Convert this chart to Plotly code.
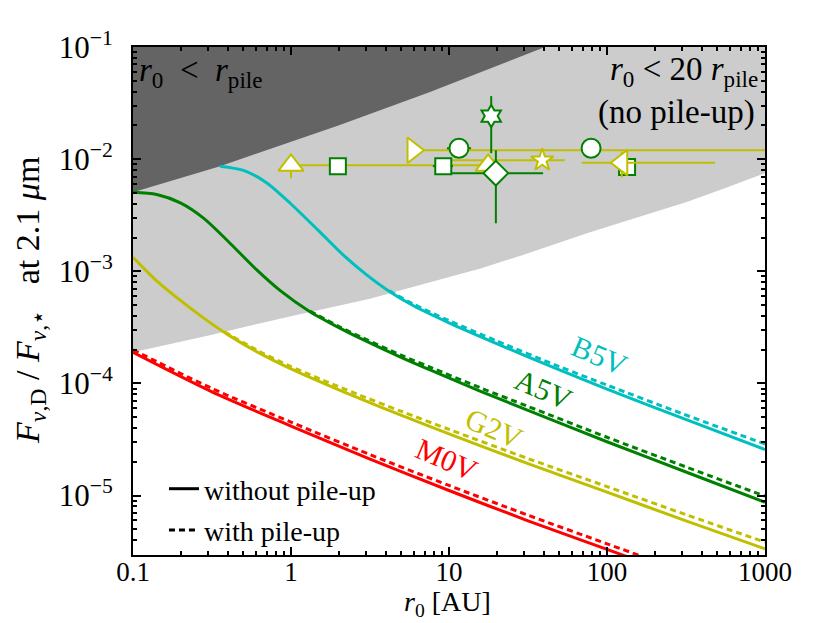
import plotly.graph_objects as go

# ---------------- data (log10 values) ----------------
# shaded region boundaries
dark_lx = [-1.0, -0.449, 0.3, 0.88, 1.608]
dark_ly = [-2.295, -2.0625, -1.70, -1.402, -1.0]
light_lx = [-1.0, -0.5, 0.0, 0.5, 0.88, 1.2, 1.5, 1.873, 2.2, 2.5, 2.75, 3.0]
light_ly = [-3.723, -3.565, -3.40, -3.245, -3.098, -2.975, -2.84, -2.661, -2.515, -2.384, -2.258, -2.125]

# B5V
b5_lx = [-0.449, -0.301, -0.155, 0.0, 0.176, 0.342, 0.477, 0.623, 0.778, 1.0, 1.301, 1.699, 2.0, 2.477, 3.0]
b5_ly = [-2.0625, -2.10, -2.21, -2.40, -2.64, -2.87, -3.03, -3.18, -3.31, -3.46, -3.645, -3.88, -4.05, -4.31, -4.59]
b5d_lx = [0.623, 0.778, 1.0, 1.301, 1.699, 2.0, 2.477, 3.0]
b5d_ly = [-3.175, -3.295, -3.44, -3.62, -3.85, -4.015, -4.27, -4.54]
# A5V
a5_lx = [-1.0, -0.85, -0.7, -0.55, -0.4, -0.215, -0.07, 0.12, 0.3, 0.456, 0.7, 0.88, 1.2, 1.5, 2.0, 2.5, 3.0]
a5_ly = [-2.295, -2.315, -2.39, -2.53, -2.73, -2.99, -3.17, -3.36, -3.50, -3.61, -3.77, -3.88, -4.07, -4.24, -4.52, -4.79, -5.06]
a5d_lx = [0.12, 0.3, 0.456, 0.7, 0.88, 1.2, 1.5, 2.0, 2.5, 3.0]
a5d_ly = [-3.355, -3.49, -3.595, -3.75, -3.855, -4.04, -4.205, -4.48, -4.745, -5.005]
# G2V
g2_lx = [-1.0, -0.85, -0.7, -0.55, -0.4, -0.2, 0.0, 0.2, 0.418, 0.7, 1.0, 1.5, 2.0, 2.5, 3.0]
g2_ly = [-2.875, -3.085, -3.26, -3.42, -3.565, -3.73, -3.87, -3.995, -4.125, -4.285, -4.45, -4.715, -4.97, -5.225, -5.475]
g2d_lx = [-0.42, -0.2, 0.0, 0.2, 0.418, 0.7, 1.0, 1.5, 2.0, 2.5, 3.0]
g2d_ly = [-3.54, -3.715, -3.85, -3.97, -4.095, -4.25, -4.41, -4.67, -4.92, -5.17, -5.415]
# M0V
m0_lx = [-1.0, -0.5, 0.0, 0.5, 1.0, 1.5, 2.0, 2.5]
m0_ly = [-3.723, -4.075, -4.38, -4.675, -4.955, -5.225, -5.48, -5.735]
m0d_lx = [-1.0, -0.5, 0.0, 0.5, 1.0, 1.5, 2.0, 2.5]
m0d_ly = [-3.70, -4.045, -4.345, -4.635, -4.91, -5.175, -5.43, -5.685]

# observed points (r0 [AU], flux ratio) with error-bar ends
yel_x = [1.0, 5.92, 17.7, 38.9, 124.0]
yel_y = [8.8e-3, 1.2e-2, 8.8e-3, 9.8e-3, 9.3e-3]
yel_sym = ["triangle-up", "triangle-right", "triangle-up", "star", "triangle-left"]
yel_size = [22, 22, 22, 17, 22]
yel_xhi = [17.7, 3000.0, 17.7, 54.0, 483.0]
yel_xlo = [1.0, 5.92, 17.7, 9.7, 69.2]
yel_yhi = [8.8e-3, 1.2e-2, 8.8e-3, 9.8e-3, 1.16e-2]
yel_ylo = [6.76e-3, 1.2e-2, 8.8e-3, 9.8e-3, 6.87e-3]

grn_x = [1.98, 9.2, 11.56, 79.3, 18.5, 19.8]
grn_y = [8.66e-3, 8.66e-3, 1.25e-2, 1.25e-2, 2.42e-2, 7.5e-3]
grn_sym = ["square", "square", "circle", "circle", "hexagram", "diamond"]
grn_size = [16, 16, 19, 19, 17, 19]
grn_xhi = [1.98, 10.6, 13.8, 79.3, 18.5, 39.4]
grn_xlo = [1.98, 7.9, 9.7, 79.3, 18.5, 9.86]
grn_yhi = [8.66e-3, 8.66e-3, 1.25e-2, 1.25e-2, 3.65e-2, 1.2e-2]
grn_ylo = [8.66e-3, 8.66e-3, 1.25e-2, 1.25e-2, 1.13e-2, 2.68e-3]

grn_back_x = [134.0]
grn_back_y = [8.5e-3]

x_tickvals = [0.1, 1, 10, 100, 1000]
x_ticktext = ["0.1", "1", "10", "100", "1000"]
y_tickvals = [1e-5, 1e-4, 1e-3, 1e-2, 1e-1]
y_ticktext = ["10<sup>\u22125</sup>", "10<sup>\u22124</sup>", "10<sup>\u22123</sup>",
              "10<sup>\u22122</sup>", "10<sup>\u22121</sup>"]

X_RANGE = [-1, 3]
Y_RANGE = [-5.53, -1]

C_CYAN = "#00BFBF"
C_GREEN = "#008000"
C_YEL = "#BFBF00"
C_RED = "#FF0000"
FONT = "Liberation Serif"


def p10(v):
    return [10 ** a for a in v]


fig = go.Figure()

# light region (r0 < 20 r_pile)
lx = p10(light_lx) + [10 ** X_RANGE[1], 10 ** X_RANGE[0]]
ly = p10(light_ly) + [10 ** Y_RANGE[1], 10 ** Y_RANGE[1]]
fig.add_trace(go.Scatter(x=lx, y=ly, fill="toself", fillcolor="#cccccc", mode="lines",
                         line=dict(width=0), hoverinfo="skip", showlegend=False))
# dark region (r0 < r_pile)
dx = p10(dark_lx) + [10 ** X_RANGE[0]]
dy = p10(dark_ly) + [10 ** Y_RANGE[1]]
fig.add_trace(go.Scatter(x=dx, y=dy, fill="toself", fillcolor="#646464", mode="lines",
                         line=dict(width=0), hoverinfo="skip", showlegend=False))

curves = [
    (b5_lx, b5_ly, b5d_lx, b5d_ly, C_CYAN),
    (a5_lx, a5_ly, a5d_lx, a5d_ly, C_GREEN),
    (g2_lx, g2_ly, g2d_lx, g2d_ly, C_YEL),
    (m0_lx, m0_ly, m0d_lx, m0d_ly, C_RED),
]
for sx, sy, ddx, ddy, col in curves:
    fig.add_trace(go.Scatter(x=p10(ddx), y=p10(ddy), mode="lines",
                             line=dict(color=col, width=3, dash="6px,4px", shape="spline", smoothing=0.8),
                             showlegend=False, hoverinfo="skip"))
    fig.add_trace(go.Scatter(x=p10(sx), y=p10(sy), mode="lines",
                             line=dict(color=col, width=3, shape="spline", smoothing=0.8),
                             showlegend=False, hoverinfo="skip"))

# green square hidden behind yellow triangle
fig.add_trace(go.Scatter(x=grn_back_x, y=grn_back_y, mode="markers",
                         marker=dict(symbol="square", size=16, color="white", opacity=1,
                                     line=dict(color=C_GREEN, width=2)),
                         showlegend=False))


def errs(v, hi, lo):
    return [h - a for a, h in zip(v, hi)], [a - l for a, l in zip(v, lo)]


ex_p, ex_m = errs(yel_x, yel_xhi, yel_xlo)
ey_p, ey_m = errs(yel_y, yel_yhi, yel_ylo)
fig.add_trace(go.Scatter(
    x=yel_x, y=yel_y, mode="markers",
    marker=dict(symbol=yel_sym, size=yel_size, color="white", opacity=1,
                line=dict(color=C_YEL, width=2)),
    error_x=dict(type="data", symmetric=False, array=ex_p, arrayminus=ex_m,
                 color=C_YEL, thickness=2, width=0),
    error_y=dict(type="data", symmetric=False, array=ey_p, arrayminus=ey_m,
                 color=C_YEL, thickness=2, width=0),
    showlegend=False))

ex_p, ex_m = errs(grn_x, grn_xhi, grn_xlo)
ey_p, ey_m = errs(grn_y, grn_yhi, grn_ylo)
fig.add_trace(go.Scatter(
    x=grn_x, y=grn_y, mode="markers",
    marker=dict(symbol=grn_sym, size=grn_size, color="white", opacity=1,
                line=dict(color=C_GREEN, width=2)),
    error_x=dict(type="data", symmetric=False, array=ex_p, arrayminus=ex_m,
                 color=C_GREEN, thickness=2, width=0),
    error_y=dict(type="data", symmetric=False, array=ey_p, arrayminus=ey_m,
                 color=C_GREEN, thickness=2, width=0),
    showlegend=False))

# legend entries
fig.add_trace(go.Scatter(x=[None], y=[None], mode="lines", name="without pile-up",
                         line=dict(color="black", width=3), legendgroup="a"))
fig.add_trace(go.Scatter(x=[None], y=[None], mode="lines", name="with pile-up",
                         line=dict(color="black", width=3, dash="6px,4px"), legendgroup="b"))

minor_x = [m * 10 ** e for e in range(-1, 3) for m in range(2, 10)]
minor_y = [m * 10 ** e for e in range(-6, -1) for m in range(2, 10)]

axis_common = dict(type="log", showline=True, linewidth=2, linecolor="black", mirror="ticks",
                   ticks="inside", ticklen=8, tickwidth=1.5, tickcolor="black",
                   showgrid=False, zeroline=False)

fig.update_xaxes(range=X_RANGE, tickmode="array", tickvals=x_tickvals, ticktext=x_ticktext,
                 tickfont=dict(family=FONT, size=27, color="black"),
                 minor=dict(tickmode="array", tickvals=minor_x, ticks="inside", ticklen=4,
                            tickwidth=1.5, tickcolor="black", showgrid=False),
                 ticklabelstandoff=-8, **axis_common)
fig.update_yaxes(range=Y_RANGE, tickmode="array", tickvals=y_tickvals, ticktext=y_ticktext,
                 tickfont=dict(family=FONT, size=31, color="black"),
                 minor=dict(tickmode="array", tickvals=minor_y, ticks="inside", ticklen=4,
                            tickwidth=1.5, tickcolor="black", showgrid=False),
                 ticklabelstandoff=12, **axis_common)

NB = "\u00a0"
top_font = dict(family=FONT, size=33, color="black")
lab = dict(family=FONT, size=30)
annotations = [
    dict(x=0.006, y=0.949, xanchor="left", yanchor="middle",
         text="<i>r</i><sub>0</sub>" + NB + NB + "<" + NB + NB + "<i>r</i><sub>pile</sub>", font=top_font),
    dict(x=0.992, y=0.951, xanchor="right", yanchor="middle",
         text="<i>r</i><sub>0</sub>" + NB + "<" + NB + "20" + NB + "<i>r</i><sub>pile</sub>", font=top_font),
    dict(x=0.987, y=0.872, xanchor="right", yanchor="middle",
         text="(no pile-up)", font=top_font),
    dict(x=0.738, y=0.392, text="B5V", textangle=23, font=dict(lab, color=C_CYAN)),
    dict(x=0.650, y=0.325, text="A5V", textangle=23, font=dict(lab, color=C_GREEN)),
    dict(x=0.572, y=0.250, text="G2V", textangle=23, font=dict(lab, color=C_YEL)),
    dict(x=0.497, y=0.188, text="M0V", textangle=23, font=dict(lab, color=C_RED)),
    dict(x=0.498, y=-0.095, text="<i>r</i><sub>0</sub> [AU]",
         font=dict(family=FONT, size=28, color="black")),
    dict(x=-0.163, y=0.502, textangle=-90,
         text="<i>F</i><sub><i>\u03bd</i>,D</sub>" + NB + "/" + NB + "<i>F</i><sub><i>\u03bd</i>,\u22c6</sub>"
              + NB + NB + NB + "at 2.1" + NB + "<i>\u03bc</i>m",
         font=dict(family=FONT, size=34, color="black")),
]
for a in annotations:
    a.update(xref="paper", yref="paper", showarrow=False)
    a.setdefault("xanchor", "center")
    a.setdefault("yanchor", "middle")

fig.update_layout(
    width=822, height=615,
    margin=dict(l=125, r=65, t=39, b=68),
    paper_bgcolor="white", plot_bgcolor="white",
    annotations=annotations,
    legend=dict(x=0.049, y=0.0, xanchor="left", yanchor="bottom", bgcolor="rgba(0,0,0,0)",
                font=dict(family=FONT, size=28, color="black"), tracegroupgap=2),
    showlegend=True,
)

fig.write_html("out.html")
